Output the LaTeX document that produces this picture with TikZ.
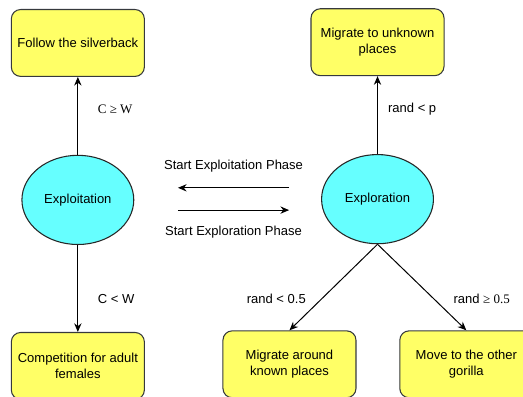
\documentclass[tikz,border=0pt]{standalone}
\usepackage{fontspec}
\setmainfont{Liberation Sans}
\newfontfamily\timesfont{Liberation Serif}
\usepackage{tikz}
\usetikzlibrary{shapes.geometric, arrows.meta, positioning, calc}
\definecolor{boxyellow}{HTML}{FFFF66}
\definecolor{ellcyan}{HTML}{66FFFF}
\definecolor{edgegray}{HTML}{36393D}

\begin{document}
\begin{tikzpicture}[
    font=\fontsize{9.8pt}{11.8pt}\selectfont,
    action/.style={rectangle, draw=edgegray, line width=0.8pt, rounded corners=7pt, fill=boxyellow, minimum width=3.52cm, minimum height=1.77cm, align=center},
    phase/.style={ellipse, draw=black!85, line width=0.8pt, fill=ellcyan, minimum width=2.96cm, minimum height=2.36cm, inner sep=0pt},
    arrow/.style={-{Stealth[length=6.5pt, width=5.5pt]}, line width=0.75pt}
]
\useasboundingbox (0,0) rectangle (13.84,-10.48);

% Phases
\node[phase] (explt) at (2.06,-5.29) {Exploitation};
\node[phase] (explr) at (9.99,-5.27) {Exploration};

% Exploitation side
\node[action, above=2.06cm of explt] (follow) {Follow the silverback};
\node[action, below=2.3cm of explt] (compet) {Competition for adult\\females};
\draw[arrow] (explt) -- (follow) node[pos=0.58, right=0.4cm] {\timesfont C ≥ W};
\draw[arrow] (explt) -- (compet) node[pos=0.62, right=0.4cm] {C < W};

% Exploration side
\node[action, above=2.06cm of explr] (unknown) {Migrate to unknown\\places};
\node[action] (around) at (7.66,-9.64) {Migrate around\\known places};
\node[action] (other) at (12.34,-9.64) {Move to the other\\gorilla};
\draw[arrow] (explr) -- (unknown) node[pos=0.58, right=0.15cm] {rand < p};
\draw[arrow] (explr.south) -- (around.north) node[pos=0.63, left=0.3cm] {rand < 0.5};
\draw[arrow] (explr.south) -- (other.north) node[pos=0.63, right=0.4cm] {rand {\timesfont ≥ 0.5}};

% Switching between phases
\coordinate (l1) at (4.71,-4.97);
\coordinate (r1) at (7.65,-4.97);
\coordinate (l2) at (4.71,-5.56);
\coordinate (r2) at (7.65,-5.56);
\draw[arrow] (r1) -- (l1) node[midway, above=0.28cm] {Start Exploitation Phase};
\draw[arrow] (l2) -- (r2) node[midway, below=0.28cm] {Start Exploration Phase};

\end{tikzpicture}
\end{document}
